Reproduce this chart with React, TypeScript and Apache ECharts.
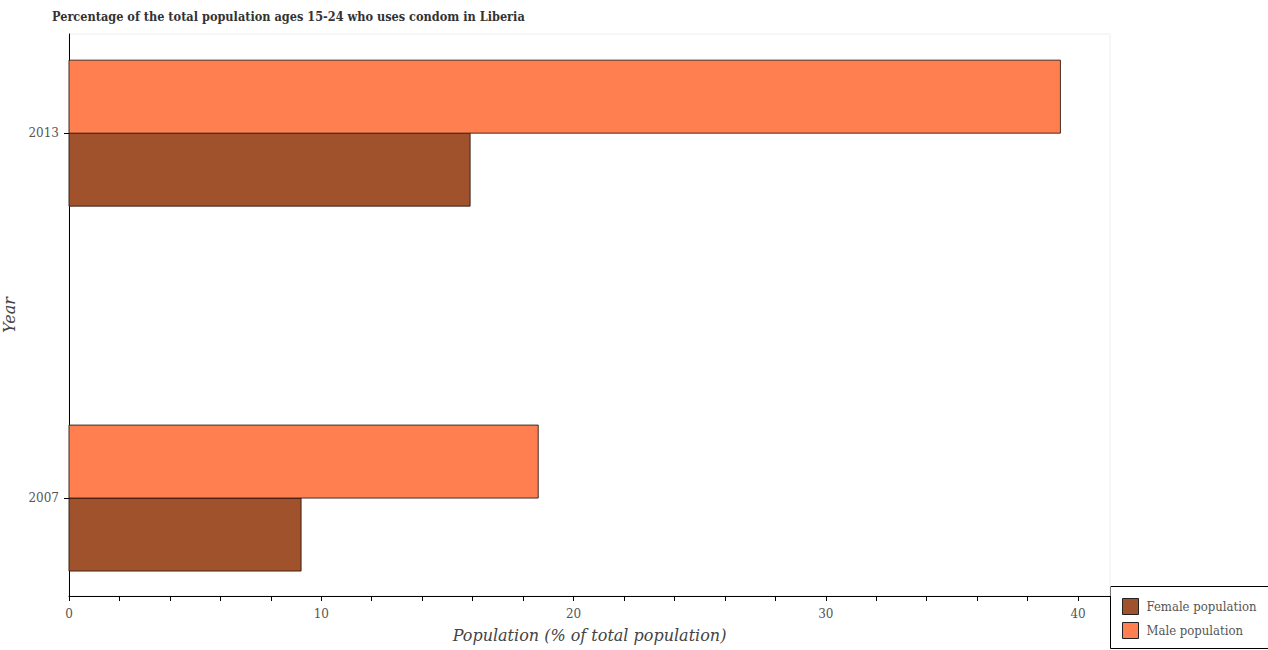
import React, { useEffect, useRef } from "react";
import * as echarts from "echarts";

const years = [2007, 2013];
const femaleValues = [9.2, 15.9];
const maleValues = [18.6, 39.3];
const xTickLabels = [0, 10, 20, 30, 40];
const xTickMarks = [0, 2, 4, 6, 8, 10, 12, 14, 16, 18, 20, 22, 24, 26, 28, 30, 32, 34, 36, 38, 40];

const FONT = "DejaVu Serif";
const FONT_COND = "DejaVu Serif Condensed";
const BAR_PX = 73;

function makeSeries(name: string, values: number[], color: string, side: number) {
  return {
    name,
    type: "custom",
    coordinateSystem: "cartesian2d",
    itemStyle: { color, borderColor: "#333", borderWidth: 1 },
    encode: { x: 0, y: 1 },
    data: values.map((v, i) => [v, years[i]]),
    renderItem: (params: any, api: any) => {
      const v = api.value(0);
      const yr = api.value(1);
      const p0 = api.coord([0, yr]);
      const p1 = api.coord([v, yr]);
      const y = side < 0 ? p0[1] - BAR_PX : p0[1];
      return {
        type: "rect",
        shape: { x: p0[0], y, width: p1[0] - p0[0], height: BAR_PX },
        style: { fill: color, stroke: "rgba(40,20,10,0.85)", lineWidth: 1 },
      };
    },
  };
}

export default function App() {
  const ref = useRef<HTMLDivElement>(null);
  useEffect(() => {
    const chart = echarts.init(ref.current!, null, { renderer: "svg" });
    chart.setOption({
      animation: false,
      backgroundColor: "#fff",
      title: {
        text: "Percentage of the total population ages 15-24 who uses condom in Liberia",
        left: 52,
        top: 10,
        padding: 0,
        textStyle: {
          fontFamily: FONT_COND,
          fontWeight: "bold",
          fontSize: 12.6,
          color: "#333",
        },
      },
      grid: {
        left: 69,
        top: 34,
        width: 1041,
        height: 562,
        show: true,
        borderColor: "#eee",
        borderWidth: 1,
        backgroundColor: "transparent",
        outerBoundsMode: "none",
        containLabel: false,
      },
      xAxis: {
        type: "value",
        min: 0,
        max: 41.265,
        name: "Population (% of total population)",
        nameLocation: "middle",
        nameGap: 31,
        nameTextStyle: { fontFamily: FONT, fontStyle: "italic", fontSize: 16, color: "#444" },
        axisLine: { show: true, lineStyle: { color: "#000", width: 1 } },
        axisTick: { show: true, length: 5, customValues: xTickMarks, lineStyle: { color: "#000" } },
        splitLine: { show: false },
        axisLabel: {
          fontFamily: FONT,
          fontSize: 12,
          color: "#555",
          margin: 12,
          customValues: xTickLabels,
          hideOverlap: false,
        },
      },
      yAxis: {
        type: "value",
        min: 2005.39,
        max: 2014.63,
        name: "Year",
        nameLocation: "middle",
        nameGap: 49,
        nameTextStyle: { fontFamily: FONT, fontStyle: "italic", fontSize: 16, color: "#444" },
        axisLine: { show: true, lineStyle: { color: "#000", width: 1 } },
        axisTick: { show: true, length: 5, customValues: years, lineStyle: { color: "#000" } },
        splitLine: { show: false },
        axisLabel: {
          fontFamily: FONT,
          fontSize: 12,
          color: "#555",
          margin: 10,
          customValues: years,
          formatter: (v: number) => String(Math.round(v)),
        },
      },
      legend: {
        orient: "vertical",
        left: 1117,
        top: 593,
        itemWidth: 16,
        itemHeight: 16,
        itemGap: 7,
        icon: "rect",
        textStyle: { fontFamily: FONT_COND, fontSize: 13, color: "#555", padding: [0, 0, 0, 3] },
        data: [
          { name: "Female population", itemStyle: { color: "#A0522D", borderColor: "#222", borderWidth: 1 } },
          { name: "Male population", itemStyle: { color: "#FF7F50", borderColor: "#222", borderWidth: 1 } },
        ],
      },
      graphic: [
        {
          type: "rect",
          z: -1,
          shape: { x: 1110.5, y: 586.5, width: 160, height: 62 },
          style: { fill: "#fff", stroke: "#000", lineWidth: 1 },
        },
      ],
      series: [
        makeSeries("Female population", femaleValues, "#A0522D", 1),
        makeSeries("Male population", maleValues, "#FF7F50", -1),
      ],
    });
    return () => chart.dispose();
  }, []);
  return (
    <div
      ref={ref}
      style={{ position: "fixed", left: 0, top: 0, width: 1268, height: 650 }}
    />
  );
}
